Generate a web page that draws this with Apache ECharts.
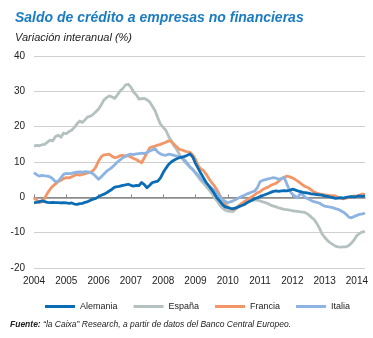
<!DOCTYPE html>
<html>
<head>
<meta charset="utf-8">
<script src="https://cdn.jsdelivr.net/npm/echarts@6/dist/echarts.min.js"></script>
<style>
html,body{margin:0;padding:0;background:#fff;}
#c{width:373px;height:338px;}
</style>
</head>
<body>
<div id="c"></div>
<script>
// Monthly data, January 2004 to April 2014
var startYear = 2004;
var nMonths = 124;

var alemania = [
-1.5,-1.4,-1.2,-1.0,-1.2,-1.4,-1.5,-1.4,-1.5,-1.5,-1.6,-1.5,
-1.6,-1.7,-1.6,-1.9,-2.0,-1.8,-1.7,-1.4,-1.2,-0.8,-0.5,-0.3,
0.2,0.6,0.9,1.3,1.8,2.3,2.9,3.0,3.2,3.4,3.5,3.7,
3.4,3.2,3.4,3.3,4.2,3.6,2.7,3.4,4.2,4.4,4.6,5.5,
7.0,8.2,9.3,10.0,10.5,10.9,11.2,11.4,11.6,11.9,12.3,11.4,
9.6,8.2,6.8,5.5,4.2,3.2,2.2,1.1,-0.2,-1.0,-2.0,-2.7,
-2.9,-3.1,-3.2,-3.0,-2.7,-2.4,-2.1,-1.6,-1.2,-0.8,-0.4,-0.1,
0.2,0.5,0.8,1.1,1.4,1.7,1.8,1.7,1.8,1.9,1.8,2.0,
2.3,2.1,1.8,1.6,1.4,1.3,1.2,1.0,0.9,0.8,0.7,0.6,
0.4,0.3,0.1,-0.1,-0.3,-0.2,-0.1,-0.2,0.0,0.1,0.2,0.1,
0.3,0.4,0.3,0.4
];

var espana = [
14.5,14.7,14.6,14.9,15.0,15.6,16.2,16.0,17.2,17.6,17.0,18.2,
18.0,18.6,19.0,19.8,20.8,21.6,21.2,22.0,22.8,23.0,23.5,24.2,
25.0,26.2,27.6,28.2,28.7,28.4,28.0,29.0,30.1,30.8,31.8,32.0,
31.2,29.8,29.0,27.8,27.9,28.0,27.6,27.0,25.8,24.5,22.5,20.7,
19.8,19.0,17.3,16.0,14.6,13.6,12.2,11.0,10.0,9.3,8.6,7.8,
6.8,5.8,4.8,4.0,3.0,2.2,1.2,0.0,-1.0,-2.2,-3.0,-3.6,
-3.9,-4.0,-4.0,-3.3,-2.4,-1.9,-1.6,-1.3,-1.0,-0.8,-0.7,-0.8,
-1.0,-1.3,-1.5,-1.8,-2.2,-2.5,-2.7,-3.0,-3.2,-3.4,-3.5,-3.6,
-3.8,-3.9,-4.0,-4.1,-4.2,-4.4,-4.9,-5.6,-6.2,-7.3,-8.6,-10.3,
-11.3,-12.2,-12.8,-13.3,-13.8,-14.0,-14.1,-14.0,-14.0,-13.6,-12.9,-12.0,
-10.8,-10.2,-9.8,-9.7
];

var francia = [
-0.2,-0.8,-1.5,-1.2,-0.2,1.2,2.3,3.2,3.8,4.5,4.8,5.3,
5.6,5.5,5.8,6.2,6.5,6.3,6.5,6.7,6.9,7.1,7.6,8.6,
10.3,11.5,12.0,12.1,12.2,11.6,11.2,11.4,11.8,11.9,11.7,11.8,
11.4,11.0,10.7,10.2,9.8,11.2,12.6,14.0,14.3,14.5,14.8,15.0,
15.3,15.6,16.0,15.8,15.0,14.3,13.6,13.4,13.1,12.9,12.7,12.0,
10.8,9.0,8.0,7.6,6.5,5.3,4.2,3.3,2.1,0.7,-0.6,-1.8,
-2.7,-3.2,-3.4,-3.1,-2.5,-1.8,-1.3,-0.8,-0.3,0.2,0.7,1.3,
1.6,2.2,2.6,2.9,3.4,3.7,4.0,4.6,5.3,5.7,6.0,5.8,
5.5,5.1,4.6,4.0,3.4,3.0,2.7,2.1,1.5,1.2,1.0,0.8,
0.7,0.6,0.5,0.5,0.4,0.0,-0.3,-0.4,-0.2,-0.1,0.2,0.4,
0.3,0.6,0.9,0.8
];

var italia = [
7.0,6.4,6.0,6.2,6.1,6.0,5.8,5.2,4.4,4.6,5.5,6.5,
6.8,6.7,6.8,7.0,7.1,7.2,7.1,7.3,7.2,7.0,6.6,5.9,
5.1,5.8,6.6,7.4,7.9,8.5,9.2,10.0,10.6,11.2,11.6,12.0,
12.2,12.1,12.3,12.4,12.5,12.4,12.7,13.1,13.4,13.8,12.8,12.3,
12.0,11.9,12.2,12.1,11.9,11.7,11.5,11.2,10.5,9.6,8.5,7.9,
7.0,6.3,5.2,4.6,4.0,3.3,2.6,1.9,1.2,0.3,-0.6,-1.1,
-1.5,-1.3,-1.0,-0.6,-0.2,0.2,0.5,0.9,1.2,1.5,1.8,2.7,
4.4,4.8,5.0,5.2,5.4,5.6,5.4,5.1,5.3,5.6,3.7,1.9,
0.9,0.3,-0.1,1.2,0.6,-0.1,-0.5,-0.9,-1.2,-1.4,-1.6,-2.1,
-2.5,-2.6,-2.8,-2.9,-3.2,-3.4,-3.8,-4.2,-4.8,-5.6,-5.8,-5.4,
-5.1,-4.8,-4.7,-4.5
];

var seriesNames = ['Alemania', 'España', 'Francia', 'Italia'];
var yTicks = [-20, -10, 0, 10, 20, 30, 40];

var months = [];
for (var i = 0; i < nMonths; i++) {
  var y = startYear + Math.floor(i / 12);
  var m = (i % 12) + 1;
  months.push(y + '-' + (m < 10 ? '0' + m : m));
}

var colors = {
  'Alemania': '#0a6cb4',
  'España': '#b5c0c1',
  'Francia': '#f29668',
  'Italia': '#8db3e2'
};
var dataMap = {
  'Alemania': alemania,
  'España': espana,
  'Francia': francia,
  'Italia': italia
};
var drawOrder = ['España', 'Francia', 'Italia', 'Alemania'];

var FONT = 'Liberation Sans';

var chart = echarts.init(document.getElementById('c'), null, {renderer: 'canvas'});
var option = {
  animation: false,
  backgroundColor: '#ffffff',
  textStyle: {fontFamily: FONT},
  title: [
    {
      text: 'Saldo de crédito a empresas no financieras',
      left: 10, top: 6,
      textStyle: {fontFamily: FONT, fontSize: 14, fontWeight: 'bold', fontStyle: 'italic', color: '#1a7cc1'}
    },
    {
      text: 'Variación interanual (%)',
      left: 10, top: 27,
      textStyle: {fontFamily: FONT, fontSize: 11, fontWeight: 'normal', fontStyle: 'italic', color: '#222'}
    }
  ],
  grid: {left: 34, right: 8, top: 56, bottom: 70, containLabel: false},
  legend: {
    data: seriesNames,
    left: 40, top: 297,
    icon: 'rect',
    itemWidth: 30, itemHeight: 3,
    itemGap: 16,
    textStyle: {fontFamily: FONT, fontSize: 9, color: '#222'}
  },
  xAxis: [
    {
      type: 'category',
      data: months,
      boundaryGap: false,
      position: 'bottom',
      axisLine: {show: false, onZero: false},
      axisTick: {show: false},
      splitLine: {show: false},
      axisLabel: {
        interval: function (idx) { return idx % 12 === 0; },
        formatter: function (v) { return v.slice(0, 4); },
        margin: 8,
        fontSize: 10,
        color: '#222',
        fontFamily: FONT
      }
    },
    {
      type: 'category',
      data: months,
      boundaryGap: false,
      position: 'top',
      axisLine: {show: true, onZero: true, lineStyle: {color: '#8c8c8c', width: 1.5}},
      axisTick: {show: true, inside: false, length: 3, interval: function (idx) { return idx % 12 === 0; }, lineStyle: {color: '#8c8c8c'}},
      axisLabel: {show: false},
      splitLine: {show: false}
    }
  ],
  yAxis: {
    type: 'value',
    min: -20, max: 40, interval: 10,
    axisLine: {show: false},
    axisTick: {show: false},
    axisLabel: {fontSize: 10, color: '#222', margin: 9, fontFamily: FONT},
    splitLine: {lineStyle: {color: ['#d0d0d0', '#d0d0d0', '#8c8c8c', '#d0d0d0', '#d0d0d0', '#d0d0d0', '#d0d0d0'], width: 1}}
  },
  series: drawOrder.map(function (name) {
    return {
      name: name,
      type: 'line',
      xAxisIndex: 0,
      data: dataMap[name],
      showSymbol: false,
      symbol: 'none',
      itemStyle: {color: colors[name]},
      lineStyle: {color: colors[name], width: 2.8, join: 'round'}
    };
  }),
  graphic: [
    {
      type: 'text',
      left: 10, top: 320,
      style: {
        text: '{b|Fuente:} “la Caixa” Research, a partir de datos del Banco Central Europeo.',
        rich: {
          b: {fontWeight: 'bold', fontStyle: 'italic', fontSize: 8.5, fontFamily: FONT, fill: '#222'}
        },
        fontStyle: 'italic',
        fontSize: 8.5,
        fontFamily: FONT,
        fill: '#222'
      }
    }
  ]
};
chart.setOption(option);
</script>
</body>
</html>
